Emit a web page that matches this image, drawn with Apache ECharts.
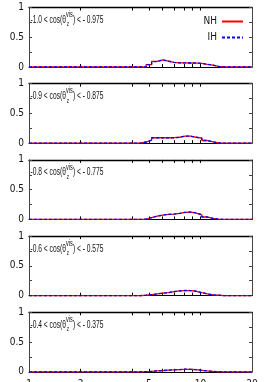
<!DOCTYPE html>
<html><head><meta charset="utf-8">
<script src="https://cdn.jsdelivr.net/npm/echarts@6/dist/echarts.min.js"></script>
<style>html,body{margin:0;padding:0;background:#fff}#c{width:266px;height:382px}</style>
</head><body><div id="c"></div>
<script>
// Log-spaced bin edges (40 bins from 1 to 20)
const binEdges = [1, 1.0778, 1.1616, 1.2520, 1.3494, 1.4543, 1.5675, 1.6894, 1.8208, 1.9625,
  2.1147, 2.2793, 2.4566, 2.6477, 2.8537, 3.0757, 3.3150, 3.5729, 3.8508, 4.1504,
  4.4721, 4.8200, 5.1949, 5.5991, 6.0346, 6.5041, 7.0100, 7.5553, 8.1430, 8.7764,
  9.4574, 10.195, 10.988, 11.843, 12.764, 13.757, 14.827, 15.981, 17.224, 18.564, 20];

const panelLow  = ['-1.0', '-0.9', '-0.8', '-0.6', '-0.4'];
const panelHigh = ['-0.975', '-0.875', '-0.775', '-0.575', '-0.375'];

const nh1 = [0,0,0,0,0,0,0,0,0,0, 0,0,0,0,0,0,0,0,0,0,
  0,0.04,0.095,0.12,0.10,0.078,0.068,0.068,0.067,0.066, 0.062,0.045,0.03,0.01,0,0,0,0,0,0];
const ih1 = [0,0,0,0,0,0,0,0,0,0, 0,0,0,0,0,0,0,0,0,0,
  0,0.04,0.092,0.118,0.098,0.078,0.068,0.068,0.067,0.068, 0.06,0.045,0.03,0.01,0,0,0,0,0,0];
const nh2 = [0,0,0,0,0,0,0,0,0,0, 0,0,0,0,0,0,0,0,0,0,
  0.02,0.05,0.092,0.092,0.092,0.092,0.1,0.118,0.118,0.1, 0.084,0.045,0.022,0.006,0,0,0,0,0,0];
const ih2 = [0,0,0,0,0,0,0,0,0,0, 0,0,0,0,0,0,0,0,0,0,
  0.02,0.05,0.092,0.092,0.092,0.092,0.1,0.12,0.116,0.1, 0.086,0.045,0.022,0.006,0,0,0,0,0,0];
const nh3 = [0,0,0,0,0,0,0,0,0,0, 0,0,0,0,0,0,0,0,0,0,
  0.006,0.028,0.056,0.073,0.084,0.09,0.1,0.118,0.123,0.106, 0.078,0.04,0.017,0.006,0,0,0,0,0,0];
const ih3 = [0,0,0,0,0,0,0,0,0,0, 0,0,0,0,0,0,0,0,0,0,
  0.006,0.028,0.056,0.073,0.084,0.09,0.1,0.118,0.125,0.108, 0.078,0.04,0.017,0.006,0,0,0,0,0,0];
const nh4 = [0,0,0,0,0,0,0,0,0,0, 0,0,0,0,0,0,0,0,0,0,
  0.006,0.017,0.028,0.04,0.05,0.067,0.078,0.084,0.084,0.073, 0.05,0.028,0.011,0.006,0,0,0,0,0,0];
const ih4 = [0,0,0,0,0,0,0,0,0,0, 0,0,0,0,0,0,0,0,0,0,
  0.006,0.017,0.028,0.04,0.05,0.067,0.078,0.086,0.085,0.073, 0.05,0.028,0.011,0.006,0,0,0,0,0,0];
const nh5 = [0,0,0,0,0,0,0,0,0,0, 0,0,0,0,0,0,0,0,0,0,
  0.002,0.008,0.015,0.02,0.028,0.033,0.038,0.042,0.04,0.035, 0.025,0.015,0.007,0.003,0,0,0,0,0,0];
const ih5 = [0,0,0,0,0,0,0,0,0,0, 0,0,0,0,0,0,0,0,0,0,
  0.002,0.008,0.015,0.02,0.028,0.033,0.038,0.044,0.042,0.035, 0.025,0.015,0.007,0.003,0,0,0,0,0,0];

const nhSets = [nh1, nh2, nh3, nh4, nh5];
const ihSets = [ih1, ih2, ih3, ih4, ih5];

const xTickLabels = [1, 2, 5, 10, 20];
const xTickMarks = [2, 4, 5, 6, 7, 8, 9, 10];
const yTickLabels = [0, 0.5, 1];

const FONT = "'Liberation Sans', Arial, sans-serif";
const NARROW = "'Liberation Sans Narrow', 'DejaVu Sans Condensed', 'Liberation Sans', sans-serif";
const TXT = '#111';

const chart = echarts.init(document.getElementById('c'), null, {renderer: 'canvas'});

const GL = 29, GW = 223, GT0 = 7.5, GSTEP = 76.2, GH = 59.5;
const LMAX = Math.log10(20);

const grids = [], xAxes = [], yAxes = [], series = [], graphics = [];

function histPoints(vals) {
  const pts = vals.map((v, k) => [binEdges[k], v]);
  pts.push([binEdges[binEdges.length - 1], vals[vals.length - 1]]);
  return pts;
}

const mctx = document.createElement('canvas').getContext('2d');
function mw(txt, size) { mctx.font = size + 'px ' + FONT; return mctx.measureText(txt).width; }

for (let i = 0; i < 5; i++) {
  const top = GT0 + GSTEP * i;
  grids.push({left: GL, top: top, width: GW, height: GH, outerBoundsMode: 'none', containLabel: false});
  xAxes.push({gridIndex: i, type: 'log', min: 1, max: 20, show: false});
  xAxes.push({gridIndex: i, type: 'value', min: 0, max: LMAX, position: 'bottom',
    axisLine: {show: true, onZero: false, lineStyle: {color: '#000', width: 1}},
    axisTick: {show: true, inside: true, length: 3, customValues: xTickMarks.map(Math.log10), lineStyle: {color: '#000', width: 1}},
    axisLabel: {show: i === 4, customValues: xTickLabels.map(Math.log10), margin: 8,
      formatter: v => String(Math.round(Math.pow(10, v))), fontSize: 10, fontFamily: NARROW, color: TXT},
    splitLine: {show: false}});
  xAxes.push({gridIndex: i, type: 'value', min: 0, max: LMAX, position: 'top',
    axisLine: {show: true, onZero: false, lineStyle: {color: '#000', width: 1.3}},
    axisTick: {show: true, inside: true, length: 3, customValues: xTickMarks.map(Math.log10), lineStyle: {color: '#000', width: 1}},
    axisLabel: {show: false}, splitLine: {show: false}});
  yAxes.push({gridIndex: i, type: 'value', min: 0, max: 1, interval: 0.25, position: 'left',
    axisLine: {show: true, onZero: false, lineStyle: {color: '#444', width: 1}},
    axisTick: {show: true, inside: true, length: 3, lineStyle: {color: '#444'}},
    axisLabel: {margin: 5, fontSize: 10, fontFamily: NARROW, color: TXT,
      formatter: v => (yTickLabels.indexOf(v) >= 0 ? String(v) : '')},
    splitLine: {show: false}});
  yAxes.push({gridIndex: i, type: 'value', min: 0, max: 1, interval: 0.25, position: 'right',
    axisLine: {show: true, onZero: false, lineStyle: {color: '#444', width: 1}},
    axisTick: {show: true, inside: true, length: 3, lineStyle: {color: '#444'}},
    axisLabel: {show: false}, splitLine: {show: false}});

  series.push({name: 'NH', type: 'line', xAxisIndex: 3 * i, yAxisIndex: 2 * i, step: 'end',
    symbol: 'none', clip: false, animation: false, data: histPoints(nhSets[i]),
    lineStyle: {color: '#ff0000', width: 1.3, type: 'solid'}, itemStyle: {color: '#ff0000'}});
  series.push({name: 'IH', type: 'line', xAxisIndex: 3 * i, yAxisIndex: 2 * i, step: 'end',
    symbol: 'none', clip: false, animation: false, data: histPoints(ihSets[i]),
    lineStyle: {color: '#0000ff', width: 1.3, type: [3, 2]}, itemStyle: {color: '#0000ff'}});

  const partA = panelLow[i] + ' < cos(\u03b8';
  const partB = ') < ' + panelHigh[i].replace('-', '- ');
  const wA = mw(partA, 11), wV = mw('vis', 9), wB = mw(partB, 11);
  const W = wA + wV + 0.5 + wB;
  const sx = 73 / W;
  const yc = 20 + GSTEP * i;
  graphics.push({type: 'group', x: 30.5, y: yc, scaleX: sx, scaleY: 1, silent: true, children: [
    {type: 'text', x: 0, y: 0, style: {text: partA, fontSize: 11, fontFamily: FONT, fill: TXT, verticalAlign: 'middle', align: 'left'}},
    {type: 'text', x: wA + 0.3, y: -5.2, style: {text: 'vis', fontSize: 9, fontFamily: FONT, fill: TXT, verticalAlign: 'middle', align: 'left'}},
    {type: 'text', x: wA + 1.5, y: 4.3, style: {text: 'z', fontSize: 7.5, fontFamily: FONT, fill: TXT, verticalAlign: 'middle', align: 'left'}},
    {type: 'text', x: wA + wV + 0.5, y: 0, style: {text: partB, fontSize: 11, fontFamily: FONT, fill: TXT, verticalAlign: 'middle', align: 'left'}}
  ]});
}

chart.setOption({
  animation: false,
  backgroundColor: '#fff',
  grid: grids,
  xAxis: xAxes,
  yAxis: yAxes,
  series: series,
  graphic: graphics,
  legend: {
    data: ['NH', 'IH'], orient: 'vertical', right: 22, top: 16.5, align: 'right',
    padding: 0, itemWidth: 21, itemHeight: 8, itemGap: 6, selectedMode: false,
    itemStyle: {color: 'rgba(0,0,0,0)', borderWidth: 0, opacity: 0},
    textStyle: {fontSize: 10, fontFamily: NARROW, color: TXT, padding: [0, 0, 0, 0]}
  }
});
</script></body></html>
